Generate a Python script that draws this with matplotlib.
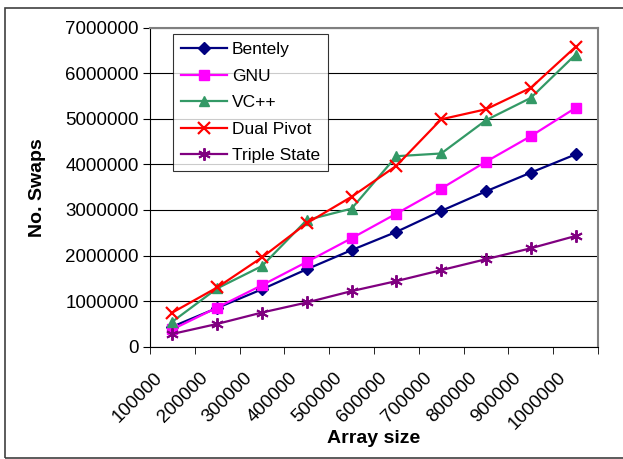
import matplotlib
matplotlib.use("Agg")
import matplotlib.pyplot as plt
from matplotlib.patches import Rectangle
from matplotlib.transforms import ScaledTranslation

plt.rcParams['font.family'] = ['Liberation Sans', 'DejaVu Sans']

# Data
array_sizes = ['100000', '200000', '300000', '400000', '500000',
               '600000', '700000', '800000', '900000', '1000000']
bentely = [440000, 850000, 1260000, 1700000, 2120000, 2520000, 2980000, 3410000, 3820000, 4220000]
gnu = [380000, 860000, 1350000, 1860000, 2380000, 2920000, 3470000, 4060000, 4620000, 5240000]
vcpp = [550000, 1280000, 1770000, 2780000, 3030000, 4180000, 4240000, 4970000, 5460000, 6410000]
dual_pivot = [750000, 1300000, 1960000, 2710000, 3290000, 3970000, 4990000, 5210000, 5680000, 6580000]
triple_state = [280000, 500000, 750000, 970000, 1220000, 1440000, 1680000, 1920000, 2160000, 2430000]

fig = plt.figure(figsize=(6.23, 4.59), dpi=100)
ax = fig.add_axes([150 / 623, 1 - 346.7 / 459, 448 / 623, 319 / 459])

x = list(range(len(array_sizes)))
asterisk = (6, 2, 0)
ax.plot(x, bentely, color='#000080', marker='D', markersize=6, lw=1.6, label='Bentely')
ax.plot(x, gnu, color='#FF00FF', marker='s', markersize=7, lw=1.6, label='GNU')
ax.plot(x, vcpp, color='#339966', marker='^', markersize=7.5, lw=1.6, label='VC++')
ax.plot(x, dual_pivot, color='#FF0000', marker='x', markersize=8.5, mew=1.6, lw=1.6, label='Dual Pivot')
ax.plot(x, triple_state, color='#800080', marker=asterisk, markersize=9, mew=1.4, lw=1.6, label='Triple State')

ax.set_xlim(-0.5, len(array_sizes) - 0.5)
ax.set_ylim(0, 7000000)
ax.set_yticks(range(0, 7000001, 1000000))
ax.set_yticklabels([str(v) for v in range(0, 7000001, 1000000)], fontsize=13.5)
ax.yaxis.grid(True, color='black', lw=0.8)
ax.set_axisbelow(True)

ax.set_xticks(x)
ax.set_xticklabels(array_sizes, rotation=45, ha='right', va='center', fontsize=13.5,
                   rotation_mode='anchor')
ax.tick_params(axis='x', length=0, pad=0)
for lab in ax.get_xticklabels():
    lab.set_transform(lab.get_transform() + ScaledTranslation(-0.12, -0.285, fig.dpi_scale_trans))
ax.set_xticks([i - 0.5 for i in range(len(array_sizes) + 1)], minor=True)
ax.tick_params(axis='x', which='minor', length=5, direction='out', color='black')
ax.tick_params(axis='y', length=5, direction='out', pad=3)

for side in ['top', 'right']:
    ax.spines[side].set_color('#808080')
    ax.spines[side].set_linewidth(1.5)
ax.spines['left'].set_color('black')
ax.spines['bottom'].set_color('black')

ax.set_ylabel('No. Swaps', fontsize=14, fontweight='bold')
ax.yaxis.set_label_coords(-0.232, 0.5)
ax.set_xlabel('Array size', fontsize=14, fontweight='bold')
ax.xaxis.set_label_coords(0.5, -0.262)

leg = ax.legend(loc='upper left', bbox_to_anchor=(0.0507, 0.98), borderaxespad=0,
                fontsize=12.5, frameon=True, fancybox=False, edgecolor='black',
                handlelength=2.65, labelspacing=0.66, borderpad=0.45, handletextpad=0.3)
leg.get_frame().set_linewidth(0.8)

# outer chart border
fig.patches.append(Rectangle((5 / 623, 1 - 457.5 / 459), 0.999, 450 / 459,
                             transform=fig.transFigure, fill=False,
                             edgecolor='#404040', lw=1.2))

fig.savefig('out.png', dpi=100)
